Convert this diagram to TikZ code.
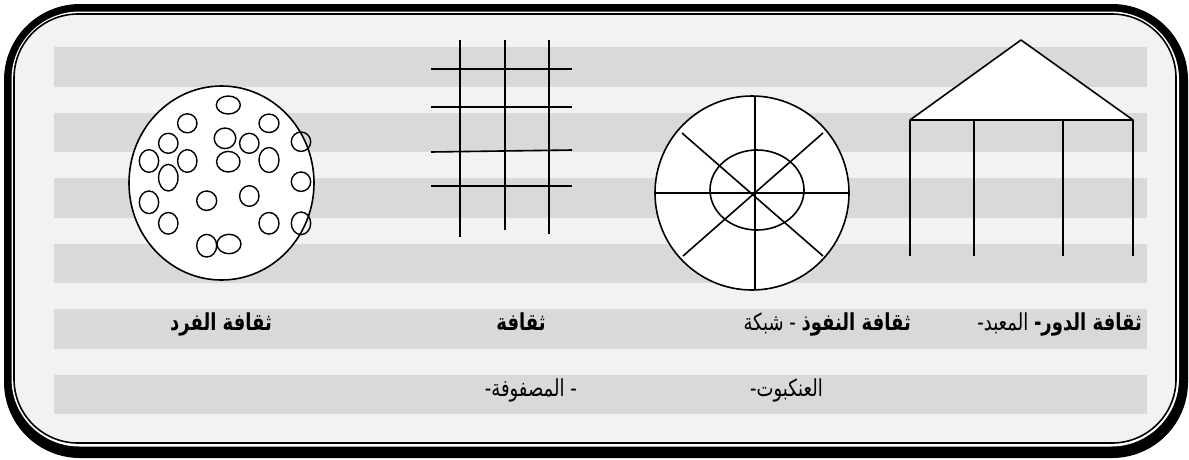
\documentclass[tikz,border=0pt]{standalone}
\usepackage{fontspec}
\setmainfont{Liberation Sans}
\newfontfamily\arabicfont[Script=Arabic]{DejaVu Sans}
\TeXXeTstate=1
\definecolor{bgl}{HTML}{F2F2F2}
\definecolor{stripe}{HTML}{D9D9D9}
\newcommand{\artxt}[1]{\scalebox{1}[1.3]{#1}}
\tikzset{
  shapeline/.style={draw=black, line width=1.6pt},
  ar/.style={inner sep=0pt, font=\arabicfont\fontsize{18}{21}\selectfont},
}
\begin{document}
\begin{tikzpicture}[x=1pt,y=-1pt]
\useasboundingbox (0,0) rectangle (1189,459);
% frame
\fill[black, rounded corners=76pt] (4,4) rectangle (1188,458);
\fill[white, rounded corners=68pt] (11.5,11.5) rectangle (1179,446.5);
\filldraw[fill=bgl, draw=black, line width=1.6pt, rounded corners=64pt] (14,14) rectangle (1176,443);
% stripes
\foreach \k in {0,...,5} {
  \fill[stripe] (54,{47+65.5*\k}) rectangle (1147,{86.5+65.5*\k});
}
% temple
\filldraw[fill=white, shapeline, line join=round] (910,120) -- (1021,40) -- (1133,120) -- cycle;
\foreach \xx in {910,974,1063,1133} { \draw[shapeline] (\xx,120) -- (\xx,256); }
% spider web
\filldraw[fill=white, shapeline] (752,193) circle (97);
\draw[shapeline] (757,190) ellipse [x radius=47, y radius=40];
\draw[shapeline] (755,96) -- (755,290);
\draw[shapeline] (655,193) -- (849,193);
\draw[shapeline] (682,133) -- (823,256);
\draw[shapeline] (823,133) -- (683,256);
% grid
\draw[shapeline] (460,40) -- (460,237);
\draw[shapeline] (505,40) -- (505,230);
\draw[shapeline] (549,40) -- (549,234);
\draw[shapeline] (431,69) -- (572,69);
\draw[shapeline] (431,107) -- (572,107);
\draw[shapeline] (431,152) -- (572,150);
\draw[shapeline] (431,186) -- (572,186);
% individual
\filldraw[fill=white, shapeline] (221.5,183) ellipse [x radius=92.5, y radius=97];
\foreach \cx/\cy/\rx/\ry in {
  228.3/105/12/9, 187.3/123.3/9.7/9.5, 269/123.3/10/9.2, 168.3/143.3/9.7/10,
  225/138.3/10.8/10.3, 249.3/143.3/9.7/10, 301/141.7/9.7/9.7, 149/161/9.7/11.3,
  187.3/161/9.7/11.3, 228.3/161.7/11.7/10.3, 269/160/10/12.5, 168.3/177.7/9.7/13.3,
  301/181.7/9.7/9.7, 149/202.3/9.7/11.3, 206.7/200.7/10/9.7, 249.3/196/9.7/10.3,
  168.3/223.3/9.7/10.8, 269/223.3/10/10.8, 301/223.3/9.7/11.3, 206.7/245.7/10/11.3,
  229/244/12/9.7} {
  \draw[draw=black, line width=1.4pt] (\cx,\cy) ellipse [x radius=\rx, y radius=\ry];
}
% labels
\node[ar, anchor=base] (lfard) at (221,330) {\artxt{\beginR\bfseries ثقافة الفرد\endR}};
\node[ar, anchor=base] (lmat) at (521,330) {\artxt{\beginR\bfseries ثقافة\endR}};
\node[ar, anchor=base east] (lnuf) at (911,330) {\artxt{\beginR{\bfseries ثقافة النفوذ} - شبكة\endR}};
\node[ar, anchor=base east] (lankb) at (823,396) {\artxt{\beginR العنكبوت-\endR}};
\node[ar, anchor=base east] (lmasf) at (577,396) {\artxt{\beginR - المصفوفة-\endR}};
\node[ar, anchor=base east] (ldawr) at (1142,330) {\artxt{\beginR{\bfseries ثقافة الدور-} المعبد-\endR}};
\end{tikzpicture}
\end{document}
